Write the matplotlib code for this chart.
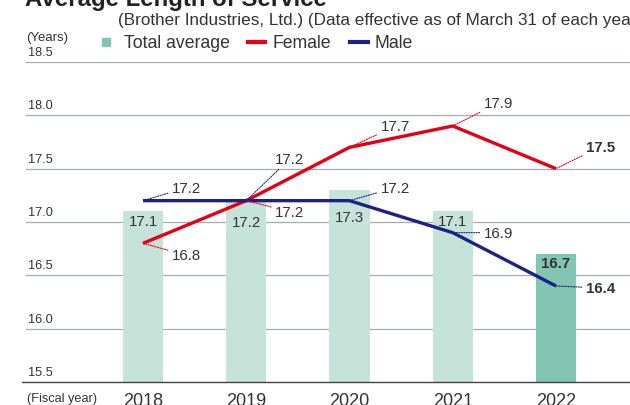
import matplotlib
matplotlib.use("Agg")
import matplotlib.pyplot as plt
from matplotlib.lines import Line2D
from matplotlib.transforms import blended_transform_factory

plt.rcParams["font.family"] = ["Liberation Sans", "DejaVu Sans"]

years = ["2018", "2019", "2020", "2021", "2022"]
total_avg = [17.1, 17.2, 17.3, 17.1, 16.7]
female = [16.8, 17.2, 17.7, 17.9, 17.5]
male = [17.2, 17.2, 17.2, 16.9, 16.4]
y_ticks = [15.5, 16.0, 16.5, 17.0, 17.5, 18.0, 18.5]

RED = "#e60012"
NAVY = "#1d2088"
BAR_LIGHT = "#c6e3d9"
BAR_DARK = "#82c5b0"
TXT = "#333333"
GRID = "#a3acb5"

fig = plt.figure(figsize=(6.3, 4.06), dpi=100)
ax = fig.add_axes([22 / 630, 23 / 406, 608 / 630, 320 / 406])

x = list(range(len(years)))
bar_colors = [BAR_LIGHT] * 4 + [BAR_DARK]
ax.bar(x, [v - 15.5 for v in total_avg], bottom=15.5, width=0.39,
       color=bar_colors, zorder=1)

for yv in y_ticks[1:]:
    ax.axhline(yv, xmin=4 / 608, color=GRID, lw=0.9, zorder=0.5)

ax.plot(x, female, color=RED, lw=2.4, zorder=3, solid_capstyle="butt")
ax.plot(x, male, color=NAVY, lw=2.4, zorder=4, solid_capstyle="butt")

ax.set_xlim(-1.172, 4.717)
ax.set_ylim(15.5, 18.5)
for s in ["top", "right", "left"]:
    ax.spines[s].set_visible(False)
ax.spines["bottom"].set_color("#444444")
ax.spines["bottom"].set_linewidth(1.0)
ax.set_yticks([])
ax.set_xticks(x)
ax.set_xticklabels(years, fontsize=13, color=TXT, va="top")
ax.tick_params(axis="x", length=0, pad=7.5)

# y labels sit above their grid lines
tr = blended_transform_factory(ax.transAxes, ax.transData)
for yv in y_ticks:
    ax.annotate(f"{yv:.1f}", (6 / 608, yv), xycoords=tr, xytext=(0, 10),
                textcoords="offset pixels", ha="left", va="center",
                fontsize=9.2, color=TXT)

# bar value labels, pushed down below the lines where they would clash
bar_label_drop = [-10, -21, -27, -10, -9]
for i, v in enumerate(total_avg):
    ax.annotate(f"{v:.1f}", (i, v), xytext=(0, bar_label_drop[i]),
                textcoords="offset pixels", ha="center", va="center",
                fontsize=10.8, color=TXT,
                fontweight="bold" if i == 4 else "normal", zorder=5)

# line value labels: (index, dx px, dy px, leader colour)
female_labels = [(0, 29, -12, RED), (1, 29, -11, RED), (2, 31, 21, RED),
                 (3, 31, 23, RED), (4, 30, 22, RED)]
male_labels = [(0, 29, 13, NAVY), (1, 29, 42, NAVY), (2, 31, 13, NAVY),
               (3, 31, 0, NAVY), (4, 30, -2, NAVY)]

for series, labels in [(female, female_labels), (male, male_labels)]:
    for i, dx, dy, c in labels:
        ax.annotate(f"{series[i]:.1f}", (i, series[i]), xytext=(dx, dy),
                    textcoords="offset pixels", ha="left", va="center",
                    fontsize=10.8, color=TXT,
                    fontweight="bold" if i == 4 else "normal",
                    arrowprops=dict(arrowstyle="-", color=c, lw=0.8,
                                    linestyle=(0, (1, 1.2)),
                                    shrinkA=1, shrinkB=0),
                    zorder=5)

# header texts
fig.text(25 / 630, 1 - 6 / 406, "Average Length of Service", fontsize=17.3,
         fontweight="bold", color="#222222", ha="left", va="baseline")
fig.text(118 / 630, 1 - 20 / 406,
         "(Brother Industries, Ltd.) (Data effective as of March 31 of each year)",
         fontsize=12.3, color=TXT, ha="left", va="center")
fig.text(26 / 630, 1 - 38 / 406, "(Years)", fontsize=9.5, color=TXT,
         ha="left", va="center")
fig.text(27 / 630, 1 - 399 / 406, "(Fiscal year)", fontsize=9.2, color=TXT,
         ha="left", va="center")

# legend
ly = 1 - 43 / 406
fig.add_artist(Line2D([106 / 630], [ly], marker="s", markersize=6,
                      color=BAR_DARK, linestyle="none"))
fig.text(124 / 630, ly, "Total average", fontsize=12.7, color=TXT, va="center")
fig.add_artist(Line2D([248 / 630, 265 / 630], [ly, ly], color=RED, lw=3))
fig.text(272 / 630, ly, "Female", fontsize=12.7, color=TXT, va="center")
fig.add_artist(Line2D([350 / 630, 368 / 630], [ly, ly], color=NAVY, lw=3))
fig.text(375 / 630, ly, "Male", fontsize=12.7, color=TXT, va="center")

fig.savefig("out.png", dpi=100)
